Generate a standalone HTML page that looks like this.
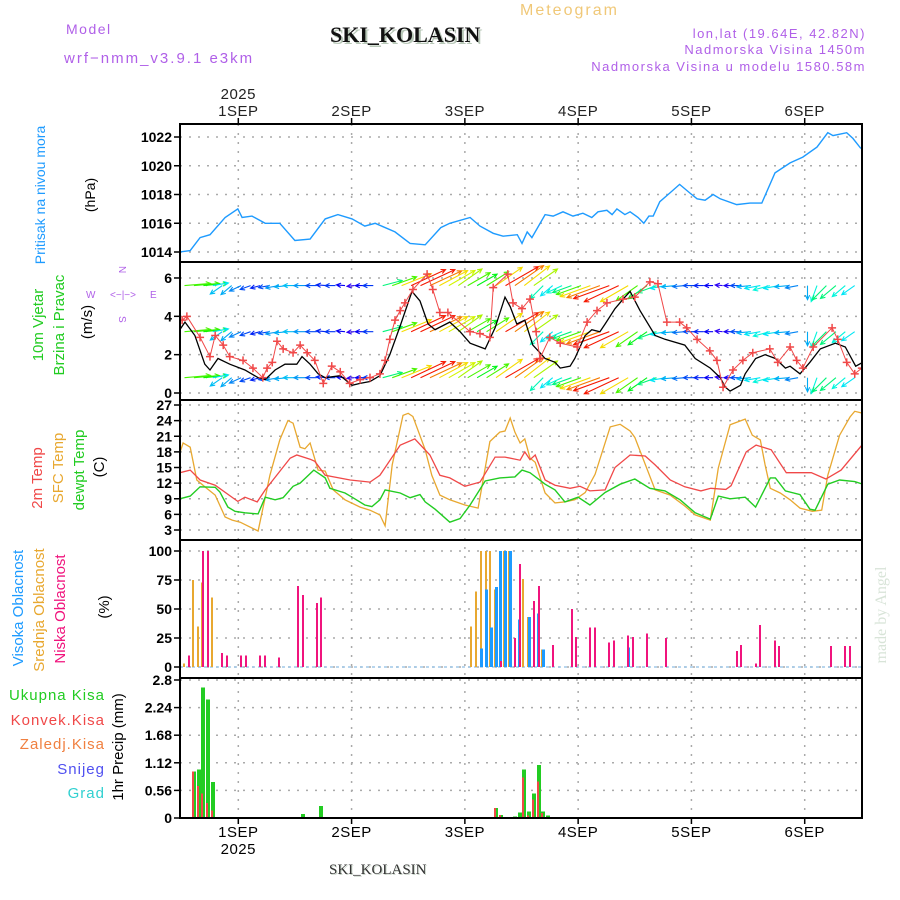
<!DOCTYPE html>
<html><head><meta charset="utf-8"><style>
html,body{margin:0;padding:0;background:#fff}
svg{display:block}
text{font-family:"Liberation Sans",sans-serif}
</style></head><body>
<svg id="chart" width="900" height="900" viewBox="0 0 900 900" xmlns="http://www.w3.org/2000/svg">
<rect width="900" height="900" fill="#fff"/>
<text x="66" y="34" font-size="14" fill="#b060e8" letter-spacing="1.5">Model</text>
<text x="64" y="63" font-size="15" fill="#b060e8" letter-spacing="2">wrf−nmm_v3.9.1 e3km</text>
<text x="332" y="44" font-size="22" font-weight="bold" fill="#b8c8b8" style="font-family:'Liberation Serif',serif">SKI_KOLASIN</text>
<text x="330" y="42" font-size="22" font-weight="bold" fill="#111" style="font-family:'Liberation Serif',serif">SKI_KOLASIN</text>
<text x="520" y="15" font-size="16" fill="#f0c878" letter-spacing="2">Meteogram</text>
<text x="866" y="38" font-size="13" fill="#b060e8" text-anchor="end" letter-spacing="1.5">lon,lat (19.64E, 42.82N)</text>
<text x="866" y="54" font-size="13" fill="#b060e8" text-anchor="end" letter-spacing="1.5">Nadmorska Visina 1450m</text>
<text x="866" y="71" font-size="13" fill="#b060e8" text-anchor="end" letter-spacing="1.5">Nadmorska Visina u modelu 1580.58m</text>

<g>
<text x="45" y="195" font-size="14" fill="#1e9bff" text-anchor="middle" transform="rotate(-90 45 195)">Pritisak na nivou mora</text>
<text x="95" y="195" font-size="14" fill="#000" text-anchor="middle" transform="rotate(-90 95 195)">(hPa)</text>
</g>
<g>
<text x="43" y="325" font-size="15" fill="#22cc22" text-anchor="middle" transform="rotate(-90 43 325)">10m Vjetar</text>
<text x="64" y="325" font-size="15" fill="#22cc22" text-anchor="middle" transform="rotate(-90 64 325)">Brzina i Pravac</text>
<text x="92" y="322" font-size="15" fill="#000" text-anchor="middle" transform="rotate(-90 92 322)">(m/s)</text>
<g fill="#b060e8" font-size="10" stroke="none">
<text x="119" y="266" transform="rotate(90 119 266)">N</text>
<text x="86" y="298">W</text>
<text x="150" y="298">E</text>
<text x="119" y="316" transform="rotate(90 119 316)">S</text>
<text x="123" y="298" text-anchor="middle" font-size="10">&lt;−|−&gt;</text>
</g>
</g>
<g>
<text x="42" y="478" font-size="15" fill="#f04848" text-anchor="middle" transform="rotate(-90 42 478)">2m Temp</text>
<text x="63" y="468" font-size="15" fill="#e8a830" text-anchor="middle" transform="rotate(-90 63 468)">SFC Temp</text>
<text x="84" y="470" font-size="15" fill="#22cc22" text-anchor="middle" transform="rotate(-90 84 470)">dewpt Temp</text>
<text x="104" y="467" font-size="15" fill="#000" text-anchor="middle" transform="rotate(-90 104 467)">(C)</text>
</g>
<g>
<text x="23" y="608" font-size="15" fill="#1e9bff" text-anchor="middle" transform="rotate(-90 23 608)">Visoka Oblacnost</text>
<text x="44" y="610" font-size="15" fill="#e8a830" text-anchor="middle" transform="rotate(-90 44 610)">Srednja Oblacnost</text>
<text x="65" y="609" font-size="15" fill="#f0147d" text-anchor="middle" transform="rotate(-90 65 609)">Niska Oblacnost</text>
<text x="109" y="607" font-size="15" fill="#000" text-anchor="middle" transform="rotate(-90 109 607)">(%)</text>
</g>
<g font-size="15" text-anchor="end" letter-spacing="1">
<text x="105" y="700" fill="#22cc22">Ukupna  Kisa</text>
<text x="105" y="725" fill="#f04848">Konvek.Kisa</text>
<text x="105" y="749" fill="#f08040">Zaledj.Kisa</text>
<text x="105" y="774" fill="#5050f0">Snijeg</text>
<text x="105" y="798" fill="#30d0d0">Grad</text>
<text x="123" y="747" font-size="15" fill="#000" text-anchor="middle" transform="rotate(-90 123 747)" letter-spacing="0">1hr Precip (mm)</text>
</g>
<text x="886" y="615" font-size="16" fill="#d8e4d8" text-anchor="middle" transform="rotate(-90 886 615)" style="font-family:'Liberation Serif',serif">made by Angel</text>
<text x="330" y="875" font-size="15" fill="#c8d4c8" style="font-family:'Liberation Serif',serif">SKI_KOLASIN</text>
<text x="329" y="874" font-size="15" fill="#333" style="font-family:'Liberation Serif',serif">SKI_KOLASIN</text>
<defs>
<clipPath id="c1"><rect x="180" y="124" width="682" height="138"/></clipPath>
<clipPath id="c2"><rect x="180" y="262" width="682" height="138"/></clipPath>
<clipPath id="c3"><rect x="180" y="400" width="682" height="140"/></clipPath>
<clipPath id="c4"><rect x="180" y="540" width="682" height="138"/></clipPath>
<clipPath id="c5"><rect x="180" y="678" width="682" height="140"/></clipPath>
</defs>
<g id="dyn"></g>
</svg>
<script>
// ---- data (hours since forecast start) ----
const dayTicks=[11.4,35.4,59.4,83.4,107.4,131.4];
const dayLabels=["1SEP","2SEP","3SEP","4SEP","5SEP","6SEP"];
const presT=[-1,1.2,3.3,5.4,8.6,11.3,12.2,14.3,17.1,20.2,23.4,26.6,29.8,32.5,35.5,38.2,40.4,44.6,47.8,51,54.3,56.2,60.5,62.6,65.4,67.5,70.5,71.5,72.6,73.6,76.4,78.1,80.2,82.3,84.4,86.3,87.6,89.5,90.6,91.6,93.3,94.4,96.1,97.3,98.4,99.3,100.7,102.8,104.9,107.1,108.6,110.3,112,113.5,117,119.8,122.3,125.1,128.3,131,134,136.3,137.4,140.3,141.6,143.3];
const presV=[1014.0,1014.1,1015.0,1015.2,1016.4,1017.0,1016.4,1016.5,1016.0,1016.0,1014.8,1014.9,1016.3,1016.6,1016.3,1015.8,1016.0,1015.4,1014.6,1014.5,1015.7,1016.0,1016.4,1015.8,1015.3,1015.1,1015.2,1014.6,1015.4,1015.0,1016.6,1016.5,1016.8,1016.5,1016.7,1016.4,1016.8,1016.9,1016.6,1017.0,1016.6,1016.8,1016.4,1016.0,1016.5,1016.5,1017.5,1018.1,1018.7,1018.1,1017.7,1017.6,1018.0,1017.7,1017.3,1017.4,1017.4,1019.5,1020.2,1020.6,1021.3,1022.3,1022.1,1022.3,1021.9,1021.2];
const spdT=[-1,0.1,2.2,4.3,5.4,7.1,9.6,12.8,15.6,17.1,19.2,21.3,23.8,24.9,26.6,28.3,29.8,33,35.5,37.2,39.3,41.4,43.5,45.7,48.2,49.9,51.6,53.1,56.2,58.4,60.5,63.7,65.8,67.9,69,70.4,72.1,73.8,75.3,76.4,78.5,79.6,81.7,82.7,84.9,86.3,88,89.1,91.2,93.3,94.4,96.5,99.7,101.8,106,108.2,111.4,113.5,114.6,115.6,117.8,118.8,121,123,125.2,127.3,128.3,130.4,132.5,134.7,137.9,140,142.2,143.7];
const spdV=[3.3,3.7,3.0,1.5,1.2,1.8,1.5,1.2,0.8,0.7,1.2,1.5,1.5,1.9,1.5,1.0,0.8,0.9,0.4,0.5,0.6,0.9,2.0,3.5,5.3,4.8,3.6,3.3,3.7,3.2,2.6,2.3,3.4,5.0,4.5,3.6,3.8,2.5,2.1,1.8,1.6,1.3,1.4,1.8,3.0,3.3,3.2,3.6,4.4,5.0,5.3,4.3,3.0,2.8,2.5,1.8,1.3,0.8,0.3,0.1,0.4,1.0,1.8,2.0,1.8,1.3,1.4,1.0,1.6,2.3,2.6,2.4,1.4,1.6];
const gustT=[-0.5,0.5,3.3,5.4,6.5,8.2,9.6,12.4,14.5,16.6,17.5,18.6,19.6,20.9,23,24.5,26,27.6,29.4,31.2,33,35,37.2,39.3,41.4,42.5,43.5,44.6,45.7,46.7,48.4,51.4,52.6,54.1,55.8,60.5,62.6,64.7,65.4,68.5,69.6,71.5,73.2,74.5,75.3,77.4,79.6,83.2,85.3,87.4,89.5,92.9,95.4,98.6,100.3,102.2,104.9,106.4,108.6,111.3,112.8,114.1,116.2,118.3,120.4,124,125.7,128.3,129.7,131,133.2,137.2,138.4,140.3,142,143.5];
const gustV=[3.8,4.0,2.9,1.9,3.0,2.5,1.9,1.7,1.3,0.8,1.3,1.6,2.7,2.3,2.1,2.5,2.1,1.7,0.5,1.4,1.1,0.5,0.7,0.8,1.0,1.7,2.8,3.8,4.3,4.7,5.4,6.2,5.4,4.2,4.2,3.2,3.1,2.9,5.5,6.2,4.7,4.4,4.9,3.2,1.8,2.9,2.6,2.4,3.7,4.3,4.7,4.9,5.0,5.8,5.7,3.7,3.7,3.4,2.8,2.2,1.7,0.3,1.2,1.7,2.1,2.3,1.6,2.4,1.7,1.3,2.4,3.4,2.8,1.6,1.0,1.3];
const arrowT=[0,2,4,6,8,10,12,14,16,18,20,22,24,26,28,30,32,34,36,38,40,42,44,46,48,50,52,54,56,58,60,62,64,66,68,70,72,74,76,78,80,82,84,86,88,90,92,94,96,98,100,102,104,106,108,110,112,114,116,118,120,122,124,126,128,130,132,134,136,138,140,142];
const arrowDir=[5,5,5,10,215,220,205,200,195,190,190,185,180,180,180,175,180,175,185,180,180,15,20,22,25,25,25,28,30,35,30,30,32,35,30,35,38,35,225,220,205,200,200,200,200,200,205,210,215,215,200,190,185,185,180,180,180,175,180,180,185,190,195,190,185,190,270,250,225,220,220,215];
const arrowSpd=[3.5,3.4,3.2,1.8,1.6,1.5,1.3,1.0,0.8,1.0,1.4,1.5,1.6,1.4,1.0,0.8,0.9,0.6,0.4,0.6,0.9,2.5,3.5,4.5,5.5,5.5,5.0,4.5,4.2,4.0,3.5,3.0,3.5,4.5,5.5,5.0,4.5,4.0,2.2,1.8,2.0,2.5,3.5,4.5,5.0,5.5,5.5,4.5,3.5,3.0,2.5,1.8,1.5,1.2,1.0,0.8,0.6,0.4,0.5,1.0,1.5,1.8,2.0,1.8,1.5,1.3,1.5,2.0,2.5,2.5,2.0,1.8];
const t2mT=[-1,1.2,3.3,6.5,11.3,12.8,15.4,17.1,22.4,23.8,26.6,27.6,29.8,35.1,39.3,41.4,45.7,48.8,52,54.1,56.2,59.4,62.6,65.8,67.9,71.1,72.1,73.2,74.3,76.4,78.5,81.7,83.8,85.9,89.1,91.2,94.4,97.6,99.7,102.9,106,109.4,111.5,114.7,115.8,119,121.1,124.3,127.5,132.8,135.9,139.1,143.7];
const t2mV=[14.0,14.5,12.6,11.6,8.5,9.3,8.4,10.7,16.8,17.4,16.6,16.2,13.5,12.6,12.2,13.5,19.3,20.5,17.4,13.5,13.0,11.4,12.2,17.0,17.0,16.4,18.0,16.5,17.4,12.6,11.6,11.0,11.4,10.5,10.7,15.0,17.4,17.2,15.5,12.6,11.3,10.5,11.0,10.8,11.5,18.0,19.3,18.4,14.0,14.0,12.8,14.5,19.5];
const sfcT=[-1,-0.3,1.2,2.6,4.3,6.5,8.6,10.1,11.8,15.6,18.1,20.2,21.9,23,24.5,25.5,26.6,28.3,29.8,31.5,34,37.2,39.3,41.4,42.5,44,46.3,47.4,48.4,51,52.4,54.1,56.2,59.4,62.2,64.7,66.8,67.9,69,70,71.1,72.1,73.2,74.3,76.4,78.5,80.6,82.7,84.9,87,90.2,92.3,94.4,95.4,99.7,102.9,106,108.2,111.4,113.1,115.6,118.8,120.3,122,123,124.1,126.2,128.3,130.4,133,135,136.3,138.8,141,142,143.7];
const sfcV=[17.8,19.7,18.9,12.6,11.3,9.7,5.5,4.9,4.5,2.8,13.5,20.3,24.0,23.5,18.9,18.6,19.7,14.5,14.3,10.7,8.8,7.4,6.8,5.9,3.8,15.5,25.0,25.4,24.8,18.4,13.5,9.7,8.8,7.8,7.2,20.0,21.8,22.0,24.5,21.8,19.7,20.5,16.8,16.0,10.1,8.2,8.4,8.8,10.2,13.7,22.8,23.3,22.0,20.8,10.7,9.7,7.6,5.9,4.9,14.9,23.2,24.3,21.2,20.3,15.5,11.0,10.1,8.8,7.2,6.6,6.8,13.5,21.2,24.7,25.8,25.4];
const dewT=[-1,1.2,3.3,6.5,7.5,9.2,10.7,12.8,15.6,17.1,19.2,20.9,23,24.5,27.4,29.8,30.8,34,35.5,38.2,39.7,41.4,42.5,45.7,47.8,49.9,51,53.1,56.2,58.4,60.5,63.7,66.8,70,71.5,73.2,76.4,78.5,80.6,83.4,85.9,89.1,92.3,95.4,98.6,101.8,105,108.2,111.4,113.1,115.6,118.8,121,124.1,125.2,127.3,130.4,132.5,133.6,136.3,138.8,142,143.7];
const dewV=[9.0,9.5,11.3,11.2,10.3,7.4,6.6,6.3,6.1,9.3,8.8,9.2,11.4,12.0,14.5,13.0,11.0,10.1,9.3,7.8,7.5,8.8,10.7,10.1,9.2,9.8,8.4,7.0,4.5,5.2,7.8,12.4,13.0,13.2,14.5,14.0,11.8,10.7,8.4,9.3,7.8,10.2,11.8,12.8,11.0,10.5,8.8,6.3,5.1,9.5,9.0,9.3,7.4,13.0,13.0,10.5,9.8,7.0,6.8,11.8,12.6,12.3,11.8];
const lowT=[1,4,5,8,9,12,13,16,17,20,24,25,28,29,67,70,71,74,75,78,82,83,86,87,90,91,94,95,98,102,117,118,121,122,125,126,137,140,141];
const lowV=[10,100,100,12,10,10,10,10,10,8,70,62,55,60,5,25,89,57,70,19,50,26,34,34,21,23,27,26,29,25,14,19,3,36,23,18,18,18,18];
const midT=[0,2,3,4,6,61,62,63,64,65,66,67,68,69,72,73,76];
const midV=[3,75,35,73,60,35,65,100,100,100,67,65,100,100,76,43,15];
const highT=[63,64,65,66,67,68,69,71,73,75,76,94];
const highV=[16,67,34,69,100,100,100,41,43,46,15,17];
const rainT=[1,2,3,4,5,6,25,29,66,67,70,71,72,73,74,75,76,77];
const rainTotal=[0.02,0.94,0.98,2.65,2.4,0.73,0.08,0.24,0.2,0.06,0.03,0.11,0.98,0.13,0.5,1.08,0.13,0.05];
const rainConv=[0,0.94,0.65,0.5,0.3,0.15,0,0,0.2,0.06,0,0,0.82,0.05,0.38,0.74,0.1,0];
const presTicks=[1014,1016,1018,1020,1022];
const windTicks=[0,2,4,6];
const tempTicks=[3,6,9,12,15,18,21,24,27];
const cloudTicks=[0,25,50,75,100];
const precipTicks=[0,0.56,1.12,1.68,2.24,2.8];
const windBands=[5.6,3.2,0.8];

// ---- axes ----
const L=180,R=862;
const x=t=>184.5+4.72*t;
const yP=v=>252-(v-1014)*14.375;
const yW=v=>393-v*19.17;
const yT=v=>530-(v-3)*5.208;
const yC=v=>667-v*1.16;
const yR=v=>818-v*49.29;
const NS="http://www.w3.org/2000/svg";
const root=document.getElementById('dyn');
function mk(tag,attrs,parent){const e=document.createElementNS(NS,tag);for(const k in attrs)e.setAttribute(k,attrs[k]);(parent||root).appendChild(e);return e;}
function fmt(v){return (Math.round(v*100)/100).toString();}

const panels=[
 {name:'pressure',top:124,bot:262,ticks:presTicks,y:yP,clip:'c1'},
 {name:'wind',top:262,bot:400,ticks:windTicks,y:yW,clip:'c2'},
 {name:'temperature',top:400,bot:540,ticks:tempTicks,y:yT,clip:'c3'},
 {name:'cloud',top:540,bot:678,ticks:cloudTicks,y:yC,clip:'c4'},
 {name:'precip',top:678,bot:818,ticks:precipTicks,y:yR,clip:'c5'}
];
const gridG=mk('g',{});


panels.forEach(p=>{
  p.ticks.forEach(v=>{
    const yy=p.y(v);
    const gl=mk('line',{x1:L,x2:R,y1:yy,y2:yy,stroke:'#aaa','stroke-width':1.5,'stroke-dasharray':'2,7'},gridG);
    
    
    const tk=mk('line',{x1:L-6,x2:L,y1:yy,y2:yy,stroke:'#000','stroke-width':1.5},gridG);
    
    
    const lb=mk('text',{x:L-8,y:yy+5,'font-size':14,'text-anchor':'end',fill:'#000','font-weight':'bold'},gridG);
    lb.textContent=fmt(v);
    
    
  });
});
dayTicks.forEach((d,i)=>{
  const xx=x(d);
  const vl=mk('line',{x1:xx,x2:xx,y1:124,y2:818,stroke:'#aaa','stroke-width':1.5,'stroke-dasharray':'2,7'},gridG);
  
  
  const t1=mk('line',{x1:xx,x2:xx,y1:118,y2:124,stroke:'#000','stroke-width':1.5},gridG);
  
  
  const t2=mk('line',{x1:xx,x2:xx,y1:818,y2:824,stroke:'#000','stroke-width':1.5},gridG);
  
  
  const a=mk('text',{x:xx,y:116,'font-size':15,'text-anchor':'middle',fill:'#222','letter-spacing':0.5},gridG);
  a.textContent=dayLabels[i];
  
  
  const b=mk('text',{x:xx,y:837,'font-size':15,'text-anchor':'middle',fill:'#000','letter-spacing':0.5},gridG);
  b.textContent=dayLabels[i];
  
  
  if(i===0){
    const y1=mk('text',{x:xx,y:99,'font-size':15,'text-anchor':'middle',fill:'#222','letter-spacing':0.5},gridG);
    y1.textContent='2025';
    
    
    const y2=mk('text',{x:xx,y:854,'font-size':15,'text-anchor':'middle',fill:'#000','letter-spacing':0.5},gridG);
    y2.textContent='2025';
    
    
  }
});

function line(T,V,yf,color,clip,name,w){
  const d=T.map((t,i)=>(i?'L':'M')+x(t).toFixed(1)+','+yf(V[i]).toFixed(1)).join('');
  const p=mk('path',{d:d,fill:'none',stroke:color,'stroke-width':w||1.3,'clip-path':'url(#'+clip+')'});
  
  
}
line(presT,presV,yP,'#1e9bff','c1','pressure-line',1.4);

// wind arrows
function spdColor(s){const h=Math.max(-40,270-s*48);return 'hsl('+((h+360)%360)+',100%,'+(h<0?55:48)+'%)';}
const arrG=mk('g',{'clip-path':'url(#c2)'});


windBands.forEach(b=>{
  arrowT.forEach((t,i)=>{
    const len=arrowSpd[i]*6+5, a=arrowDir[i]*Math.PI/180;
    const x0=x(t), y0=yW(b);
    const x1=x0+len*Math.cos(a), y1=y0-len*Math.sin(a);
    const c=spdColor(arrowSpd[i]);
    const h1=a+Math.PI-0.45,h2=a+Math.PI+0.45;
    const d='M'+x0.toFixed(1)+','+y0.toFixed(1)+'L'+x1.toFixed(1)+','+y1.toFixed(1)+
      'M'+(x1+5*Math.cos(h1)).toFixed(1)+','+(y1-5*Math.sin(h1)).toFixed(1)+'L'+x1.toFixed(1)+','+y1.toFixed(1)+
      'L'+(x1+5*Math.cos(h2)).toFixed(1)+','+(y1-5*Math.sin(h2)).toFixed(1);
    const p=mk('path',{d:d,stroke:c,'stroke-width':1.1,fill:'none'},arrG);
    
    
  });
});
line(spdT,spdV,yW,'#000','c2','wind-speed-line',1.3);
line(gustT,gustV,yW,'#f04848','c2','wind-gust-line',1);
const gG=mk('g',{'clip-path':'url(#c2)'});


gustT.forEach((t,i)=>{
  const xx=x(t),yy=yW(gustV[i]);
  const p=mk('path',{d:'M'+(xx-4)+','+yy+'h8M'+xx+','+(yy-4)+'v8',stroke:'#f04848','stroke-width':1.5},gG);
  
  
});

line(sfcT,sfcV,yT,'#e8a830','c3','sfc-temp-line',1.3);
line(dewT,dewV,yT,'#22cc22','c3','dewpoint-line',1.4);
line(t2mT,t2mV,yT,'#f04848','c3','temp-2m-line',1.3);

// clouds
const base=mk('line',{x1:L,x2:R,y1:yC(0),y2:yC(0),stroke:'#a0c8e8','stroke-width':1.5,'stroke-dasharray':'3,3'});


function bars(T,V,yf,color,w,off,name,clip){
  T.forEach((t,i)=>{
    if(V[i]<=0)return;
    const y0=yf(0),y1=yf(V[i]);
    const r=mk('rect',{x:Math.round(x(t)+off-w/2),y:y1,width:w,height:y0-y1,fill:color,'clip-path':'url(#'+clip+')','shape-rendering':'crispEdges'});
    
    
  });
}
bars(midT,midV,yC,'#e8a830',2,-1,'mid-cloud-bar','c4');
bars(highT,highV,yC,'#1e9bff',3,0,'high-cloud-bar','c4');
bars(lowT,lowV,yC,'#f0147d',2,0,'low-cloud-bar','c4');
bars(rainT,rainTotal,yR,'#22cc22',4,0,'total-precip-bar','c5');
bars(rainT,rainConv,yR,'#f04848',2,-1,'convective-precip-bar','c5');

// frame
const fr=mk('g',{});


panels.forEach(p=>{
  const r=mk('rect',{x:L,y:p.top,width:R-L,height:p.bot-p.top,fill:'none',stroke:'#000','stroke-width':2},fr);
  
  
});
</script>
</body></html>
